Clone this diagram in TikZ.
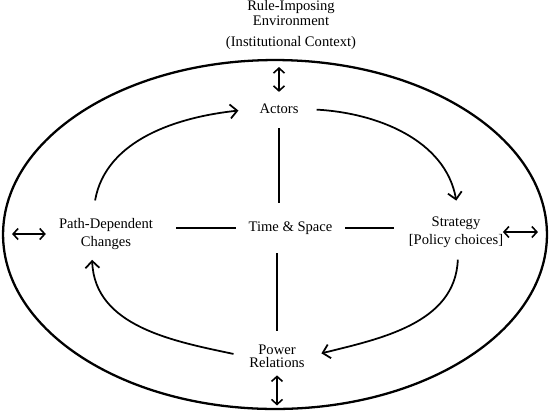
\documentclass[tikz,border=0pt]{standalone}
\usepackage{fontspec}
\setmainfont{Liberation Serif}
\usetikzlibrary{shapes.geometric, arrows.meta, positioning, calc}
\tikzstyle{concept}  = [align=center, font=\fontsize{8.3}{10.2}\selectfont]
\tikzstyle{ring}     = [ellipse, draw, line width=1.3pt, minimum width=10.88cm,
                        minimum height=6.98cm, inner sep=0pt, outer sep=0pt]
\tikzstyle{arrow}    = [line width=1pt, -{Straight Barb[length=1.4mm, width=2.8mm]}]
\tikzstyle{dblarrow} = [line width=0.9pt, {Straight Barb[length=1mm, width=2.2mm]}-{Straight Barb[length=1mm, width=2.2mm]}]
\tikzstyle{link}     = [line width=1pt]

\begin{document}
\begin{tikzpicture}[x=0.02cm, y=0.02cm]
  \useasboundingbox (0,0) rectangle (550,-413);

  % Institutional context
  \node (env) [ring] at (275,-234.5) {};
  \node (context) [concept, font=\fontsize{8.3}{8.5}\selectfont] at (291,-25)
        {Rule-Imposing\\Environment\\[3pt](Institutional Context)};

  % Cycle elements
  \node (time)     [concept, minimum width=2.18cm, minimum height=1cm] at (290.5,-228) {Time \& Space};
  \node (actors)   [concept] at (279,-109) {Actors};
  \node (strategy) [concept] at (456,-232) {Strategy\\{[Policy choices]}};
  \node (power)    [concept, font=\fontsize{8.3}{7.2}\selectfont] at (277,-356) {Power\\Relations};
  \node (path)     [concept] at (106,-234) {Path-Dependent\\Changes};

  % Cross lines
  \draw[link, shorten <=1.6mm] (actors.south) -- (actors.south |- time.north);
  \draw[link, shorten >=1.6mm] (power.north |- time.south) -- (power.north);
  \draw[link, shorten <=3.4mm] (time.west -| path.east) -- (time.west);
  \draw[link, shorten >=1.7mm] (time.east) -- (time.east -| strategy.west);

  % Cycle arrows
  \draw[arrow, shorten <=2.4mm, shorten >=3mm] ([xshift=-0.26cm]path.north) to[out=80, in=186] (actors.west);
  \draw[arrow, shorten <=2.4mm, shorten >=2mm] (actors.east) to[out=-3, in=100] ([xshift=0.04cm]strategy.north);
  \draw[arrow, shorten <=1.2mm, shorten >=2.2mm] ([xshift=0.04cm]strategy.south) to[out=-92, in=14] (power.east);
  \draw[arrow, shorten <=2mm, shorten >=0.8mm] (power.west) to[out=168, in=-88] ([xshift=-0.28cm]path.south);

  % Links to the environment
  \draw[dblarrow, shorten <=1.4mm, shorten >=1.2mm] (actors.north |- env.north) -- (actors.north);
  \draw[dblarrow, shorten <=0.4mm, shorten >=0.7mm] (power.south) -- (power.south |- env.south);
  \draw[dblarrow, shorten <=1.8mm, shorten >=1.4mm] (path.west -| env.west) -- (path.west);
  \draw[dblarrow, shorten <=-1.3mm, shorten >=1.8mm] (strategy.east) -- (strategy.east -| env.east);

\end{tikzpicture}
\end{document}
